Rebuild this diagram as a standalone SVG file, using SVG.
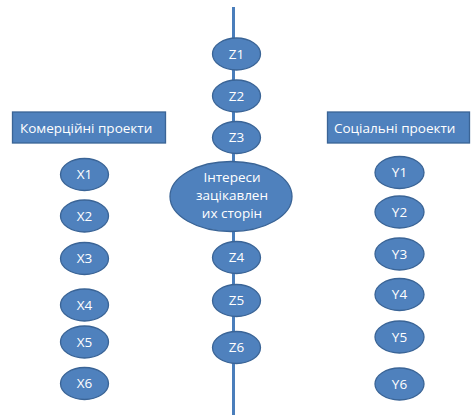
<svg xmlns="http://www.w3.org/2000/svg" width="474" height="415" viewBox="0 0 474 415">
<style>
.n{fill:#4F81BD;stroke:#3A6496;stroke-width:1.3}
.t{fill:#fff;font-family:"Open Sans","Liberation Sans",sans-serif;font-size:13.5px;text-anchor:middle}
.b{fill:#fff;font-family:"Open Sans","Liberation Sans",sans-serif;font-size:13.5px}
.c{stroke:#4A7EBB;stroke-width:3;fill:none}
</style>
<rect width="474" height="415" fill="#fff"/>
<g id="connectors"><line class="c" x1="233.5" y1="7" x2="233.5" y2="415"/></g>
<g id="commercial"><rect class="n" x="12.5" y="112" width="153" height="31"/><text class="b" x="20" y="132.5">Комерційні проекти</text></g>
<g id="social"><rect class="n" x="327.5" y="112" width="142" height="31"/><text class="b" x="334" y="132.5">Соціальні проекти</text></g>
<g id="z1"><ellipse class="n" cx="236.5" cy="54" rx="24" ry="16"/><text class="t" x="236.5" y="58.5">Z1</text></g>
<g id="z2"><ellipse class="n" cx="236.5" cy="96" rx="24" ry="16"/><text class="t" x="236.5" y="100.5">Z2</text></g>
<g id="z3"><ellipse class="n" cx="236.5" cy="137.5" rx="24" ry="16"/><text class="t" x="236.5" y="142">Z3</text></g>
<g id="interests"><ellipse class="n" cx="231" cy="196.5" rx="61" ry="35"/><text class="t" x="232" y="182">Інтереси</text><text class="t" x="232" y="200">зацікавлен</text><text class="t" x="232" y="218">их сторін</text></g>
<g id="z4"><ellipse class="n" cx="236.5" cy="257.5" rx="24" ry="16"/><text class="t" x="236.5" y="262">Z4</text></g>
<g id="z5"><ellipse class="n" cx="236.5" cy="300.5" rx="24" ry="16"/><text class="t" x="236.5" y="305">Z5</text></g>
<g id="z6"><ellipse class="n" cx="236.5" cy="347.5" rx="24" ry="16"/><text class="t" x="236.5" y="352">Z6</text></g>
<g id="x1"><ellipse class="n" cx="84.5" cy="174.5" rx="24" ry="16"/><text class="t" x="84.5" y="179">X1</text></g>
<g id="x2"><ellipse class="n" cx="84.5" cy="216" rx="24" ry="16"/><text class="t" x="84.5" y="220.5">X2</text></g>
<g id="x3"><ellipse class="n" cx="84.5" cy="258.5" rx="24" ry="16"/><text class="t" x="84.5" y="263">X3</text></g>
<g id="x4"><ellipse class="n" cx="84.5" cy="305" rx="24" ry="16"/><text class="t" x="84.5" y="309.5">X4</text></g>
<g id="x5"><ellipse class="n" cx="84.5" cy="342" rx="24" ry="16"/><text class="t" x="84.5" y="346.5">X5</text></g>
<g id="x6"><ellipse class="n" cx="84.5" cy="383.5" rx="24" ry="16"/><text class="t" x="84.5" y="388">X6</text></g>
<g id="y1"><ellipse class="n" cx="399.5" cy="172.5" rx="24.5" ry="16"/><text class="t" x="399.5" y="177">Y1</text></g>
<g id="y2"><ellipse class="n" cx="399.5" cy="212" rx="24.5" ry="16"/><text class="t" x="399.5" y="216.5">Y2</text></g>
<g id="y3"><ellipse class="n" cx="399.5" cy="254" rx="24.5" ry="16"/><text class="t" x="399.5" y="258.5">Y3</text></g>
<g id="y4"><ellipse class="n" cx="399.5" cy="294.5" rx="24.5" ry="16"/><text class="t" x="399.5" y="299">Y4</text></g>
<g id="y5"><ellipse class="n" cx="399.5" cy="337" rx="24.5" ry="16"/><text class="t" x="399.5" y="341.5">Y5</text></g>
<g id="y6"><ellipse class="n" cx="399.5" cy="384" rx="24.5" ry="16"/><text class="t" x="399.5" y="388.5">Y6</text></g>
</svg>
